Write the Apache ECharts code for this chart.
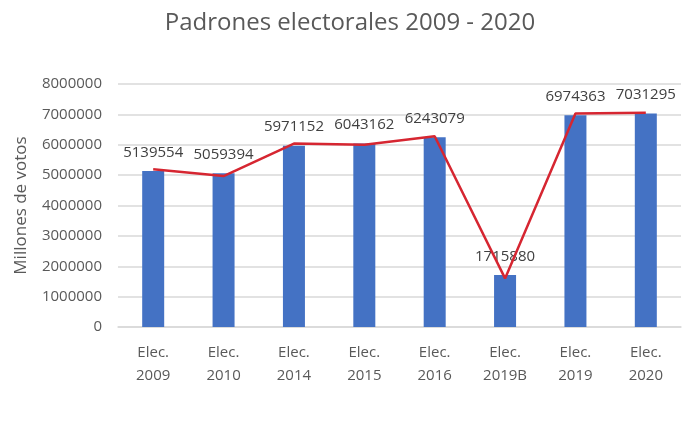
<!DOCTYPE html>
<html>
<head>
<meta charset="utf-8">
<script src="https://cdn.jsdelivr.net/npm/echarts@6/dist/echarts.min.js"></script>
<style>
  html, body { margin: 0; padding: 0; background: #fff; }
  #chart { width: 700px; height: 421px; }
</style>
</head>
<body>
<div id="chart"></div>
<script>
const categories = ['Elec.\n2009', 'Elec.\n2010', 'Elec.\n2014', 'Elec.\n2015', 'Elec.\n2016', 'Elec.\n2019B', 'Elec.\n2019', 'Elec.\n2020']
const padrones = [5139554, 5059394, 5971152, 6043162, 6243079, 1715880, 6974363, 7031295]
// red trend line (not exactly the bar values)
const tendencia = [5190000, 4970000, 6040000, 6000000, 6280000, 1600000, 7030000, 7050000]

const chart = echarts.init(document.getElementById('chart'))
chart.setOption({
  animation: false,
  title: {
    text: 'Padrones electorales 2009 - 2020',
    left: 'center',
    top: 6,
    textStyle: { color: '#595959', fontSize: 24, fontWeight: 'normal', fontFamily: 'Open Sans' }
  },
  grid: { left: 118, right: 19, top: 84, bottom: 94 },
  xAxis: {
    type: 'category',
    data: categories,
    axisLine: { lineStyle: { color: '#d9d9d9', width: 1.5 } },
    axisTick: { show: false },
    axisLabel: { color: '#595959', fontSize: 15, lineHeight: 23, margin: 14, fontFamily: 'Open Sans' }
  },
  yAxis: {
    type: 'value',
    min: 0,
    max: 8000000,
    interval: 1000000,
    name: 'Millones de votos',
    nameLocation: 'middle',
    nameGap: 88,
    nameTextStyle: { color: '#595959', fontSize: 17, fontFamily: 'Open Sans' },
    axisLabel: { color: '#595959', fontSize: 15, margin: 16, fontFamily: 'Open Sans', formatter: v => String(v) },
    splitLine: { lineStyle: { color: '#d9d9d9', width: 1.5 } }
  },
  series: [
    {
      type: 'bar',
      data: padrones,
      barWidth: 22,
      itemStyle: { color: '#4472C4' },
      label: {
        show: true,
        position: 'top',
        distance: 11,
        color: '#404040',
        fontSize: 15,
        fontFamily: 'Open Sans'
      },
      z: 2
    },
    {
      type: 'line',
      data: tendencia,
      symbol: 'none',
      lineStyle: { color: '#D62631', width: 2.5 },
      z: 3
    }
  ]
})
</script>
</body>
</html>
